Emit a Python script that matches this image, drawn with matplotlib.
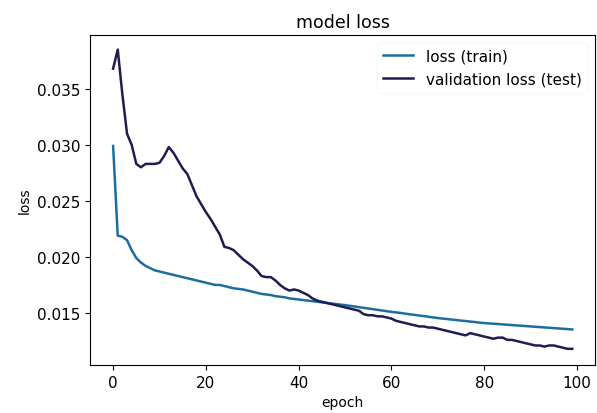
import numpy as np
import matplotlib
matplotlib.use("Agg")
import matplotlib.pyplot as plt

# values
epochs = list(range(100))

train_loss = [
    0.0299, 0.0219, 0.0218, 0.0215, 0.0206, 0.0199, 0.0195, 0.0192, 0.0190, 0.0188,
    0.0187, 0.0186, 0.0185, 0.0184, 0.0183, 0.0182, 0.0181, 0.0180, 0.0179, 0.0178,
    0.0177, 0.0176, 0.0175, 0.0175, 0.0174, 0.0173, 0.0172, 0.01715, 0.0171, 0.0170,
    0.0169, 0.0168, 0.0167, 0.01665, 0.0166, 0.0165, 0.01645, 0.0164, 0.0163, 0.01625,
    0.0162, 0.01615, 0.0161, 0.01605, 0.0160, 0.01595, 0.0159, 0.01585, 0.0158, 0.01575,
    0.0157, 0.01564, 0.01558, 0.01552, 0.01546, 0.0154, 0.01534, 0.01528, 0.01522, 0.01516,
    0.0151, 0.01505, 0.0150, 0.01494, 0.01488, 0.01483, 0.01477, 0.01472, 0.01466, 0.0146,
    0.01455, 0.0145, 0.01446, 0.01441, 0.01437, 0.01432, 0.01428, 0.01423, 0.01419, 0.01414,
    0.0141, 0.01407, 0.01404, 0.01401, 0.01398, 0.01395, 0.01392, 0.01389, 0.01386, 0.01383,
    0.0138, 0.01377, 0.01374, 0.01371, 0.01368, 0.01365, 0.01362, 0.01359, 0.01356, 0.01353,
]

val_loss = [
    0.0368, 0.0385, 0.0345, 0.0310, 0.0300, 0.0283, 0.0280, 0.0283, 0.0283, 0.0283,
    0.0284, 0.0290, 0.0298, 0.0293, 0.0286, 0.0279, 0.0274, 0.0264, 0.0254, 0.0247,
    0.0240, 0.0234, 0.0227, 0.0220, 0.0209, 0.0208, 0.0206, 0.0202, 0.0198, 0.0195,
    0.0192, 0.0188, 0.0183, 0.0182, 0.0182, 0.0179, 0.0175, 0.0172, 0.0170, 0.0171,
    0.0170, 0.0168, 0.0166, 0.0163, 0.0161, 0.0160, 0.0159, 0.0158, 0.0157, 0.0156,
    0.0155, 0.0154, 0.0153, 0.0152, 0.0149, 0.0148, 0.0148, 0.0147, 0.0147, 0.0146,
    0.0145, 0.0143, 0.0142, 0.0141, 0.0140, 0.0139, 0.0138, 0.0138, 0.0137, 0.0137,
    0.0136, 0.0135, 0.0134, 0.0133, 0.0132, 0.0131, 0.0130, 0.0132, 0.0131, 0.0130,
    0.0129, 0.0128, 0.0127, 0.0128, 0.0128, 0.0126, 0.0126, 0.0125, 0.0124, 0.0123,
    0.0122, 0.0121, 0.0121, 0.0120, 0.0121, 0.0121, 0.0120, 0.0119, 0.0118, 0.0118,
]

labels = ['loss (train)', 'validation loss (test)']

plt.rcParams['font.size'] = 11

fig = plt.figure(figsize=(5.97, 4.14), dpi=100)
ax = fig.add_axes([0.151, 0.116, 0.846, 0.797])

ax.plot(epochs, train_loss, color='#1d6e9e', lw=1.8, label=labels[0])
ax.plot(epochs, val_loss, color='#201c52', lw=1.8, label=labels[1])

ax.set_ylim(0.01036, 0.0398)
ax.set_yticks([0.015, 0.020, 0.025, 0.030, 0.035])
ax.set_xticks([0, 20, 40, 60, 80, 100])
ax.set_title('model loss', fontsize=12.5)
ax.set_xlabel('epoch', fontsize=10)
ax.set_ylabel('loss', fontsize=10)
ax.legend(loc='upper right', frameon=True, framealpha=0.8, edgecolor='#f7f7f7')

fig.savefig('out.png', dpi=100)
